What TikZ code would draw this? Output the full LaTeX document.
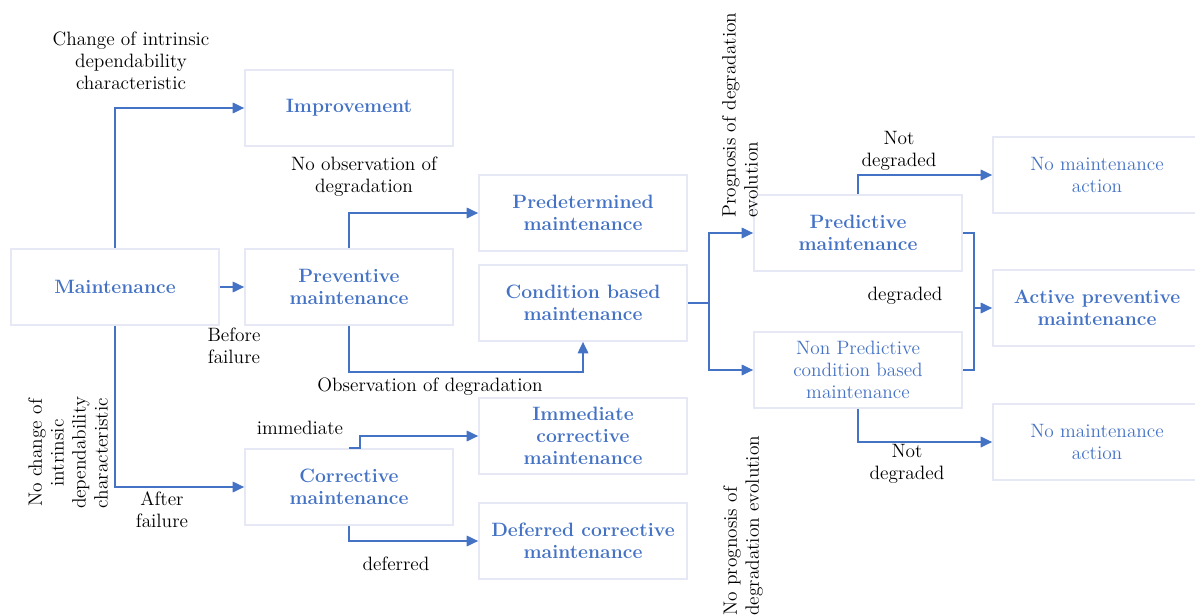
\documentclass[tikz,border=0pt]{standalone}
\usetikzlibrary{arrows.meta}
\definecolor{myblue}{RGB}{68,114,196}
\definecolor{boxline}{RGB}{230,233,245}
\begin{document}
\begin{tikzpicture}[x=0.02cm,y=-0.02cm,
  font=\fontsize{11}{12.5}\selectfont,
  box/.style={draw=boxline,line width=1pt,minimum width=4.16cm,minimum height=1.52cm,align=center,text=myblue,inner sep=2pt},
  bbox/.style={box,font=\fontsize{11}{12.5}\selectfont\bfseries},
  conn/.style={draw=myblue,line width=0.9pt},
  arr/.style={conn,-{Triangle[length=6.5pt,width=6pt]}},
  lbl/.style={align=center,inner sep=0pt,text=black}
]
\useasboundingbox (0,0) rectangle (1195,615);
% boxes
\node[bbox] (impr) at (349,108) {Improvement};
\node[bbox] (main) at (115,287) {Maintenance};
\node[bbox] (prev) at (349,287) {Preventive\\maintenance};
\node[bbox] (pdet) at (583,213) {Predetermined\\maintenance};
\node[bbox] (cbm) at (583,303) {Condition based\\maintenance};
\node[bbox] (imm) at (583,436) {Immediate\\corrective\\maintenance};
\node[bbox] (corr) at (349,487) {Corrective\\maintenance};
\node[bbox] (defr) at (583,541) {Deferred corrective\\maintenance};
\node[bbox] (pred) at (858,233) {Predictive\\maintenance};
\node[box] (npm) at (858,370) {Non Predictive\\condition based\\maintenance};
\node[box] (nma1) at (1097,175) {No maintenance\\action};
\node[bbox] (apm) at (1097,308) {Active preventive\\maintenance};
\node[box] (nma2) at (1097,442) {No maintenance\\action};
% coordinates
\coordinate (obs) at (583,372);
\coordinate (split) at (709,303);
\coordinate (join) at (974,308);
% connectors
\draw[arr] (main.north) |- (impr.west);
\draw[arr] (main.east) -- (prev.west);
\draw[arr] (main.south) |- (corr.west);
\draw[arr] (prev.north) |- (pdet.west);
\draw[arr] (prev.south) |- (obs) -- (cbm.south);
\draw[arr] (corr.north) -- ++(11,0) |- (imm.west);
\draw[arr] (corr.south) |- (defr.west);
\draw[conn] (cbm.east) -- (split);
\draw[arr] (split) |- (pred.west);
\draw[arr] (split) |- (npm.west);
\draw[arr] (pred.north) |- (nma1.west);
\draw[arr] (npm.south) |- (nma2.west);
\draw[conn] (pred.east) -| (join);
\draw[conn] (npm.east) -| (join);
\draw[arr] (join) -- (apm.west);
% labels
\node[lbl] (l1) at (131,61) {Change of intrinsic\\dependability\\characteristic};
\node[lbl] (l2) at (364,177) {No observation of\\degradation};
\node[lbl] (l3) at (234,346) {Before\\failure};
\node[lbl] (l4) at (430,387) {Observation of degradation};
\node[lbl] (l5) at (300,428) {immediate};
\node[lbl] (l6) at (162,510) {After\\failure};
\node[lbl] (l7) at (396,564) {deferred};
\node[lbl,rotate=90] (l8) at (68,453) {No change of\\intrinsic\\dependability\\characteristic};
\node[lbl,rotate=90,align=left,anchor=west] (l9) at (740,218) {Prognosis of degradation\\evolution};
\node[lbl,rotate=90,align=left,anchor=west] (l10) at (743,616) {No prognosis of\\degradation evolution};
\node[lbl] (l11) at (899,151) {Not\\degraded};
\node[lbl] (l12) at (905,296) {degraded};
\node[lbl] (l13) at (907,464) {Not\\degraded};
\end{tikzpicture}
\end{document}
